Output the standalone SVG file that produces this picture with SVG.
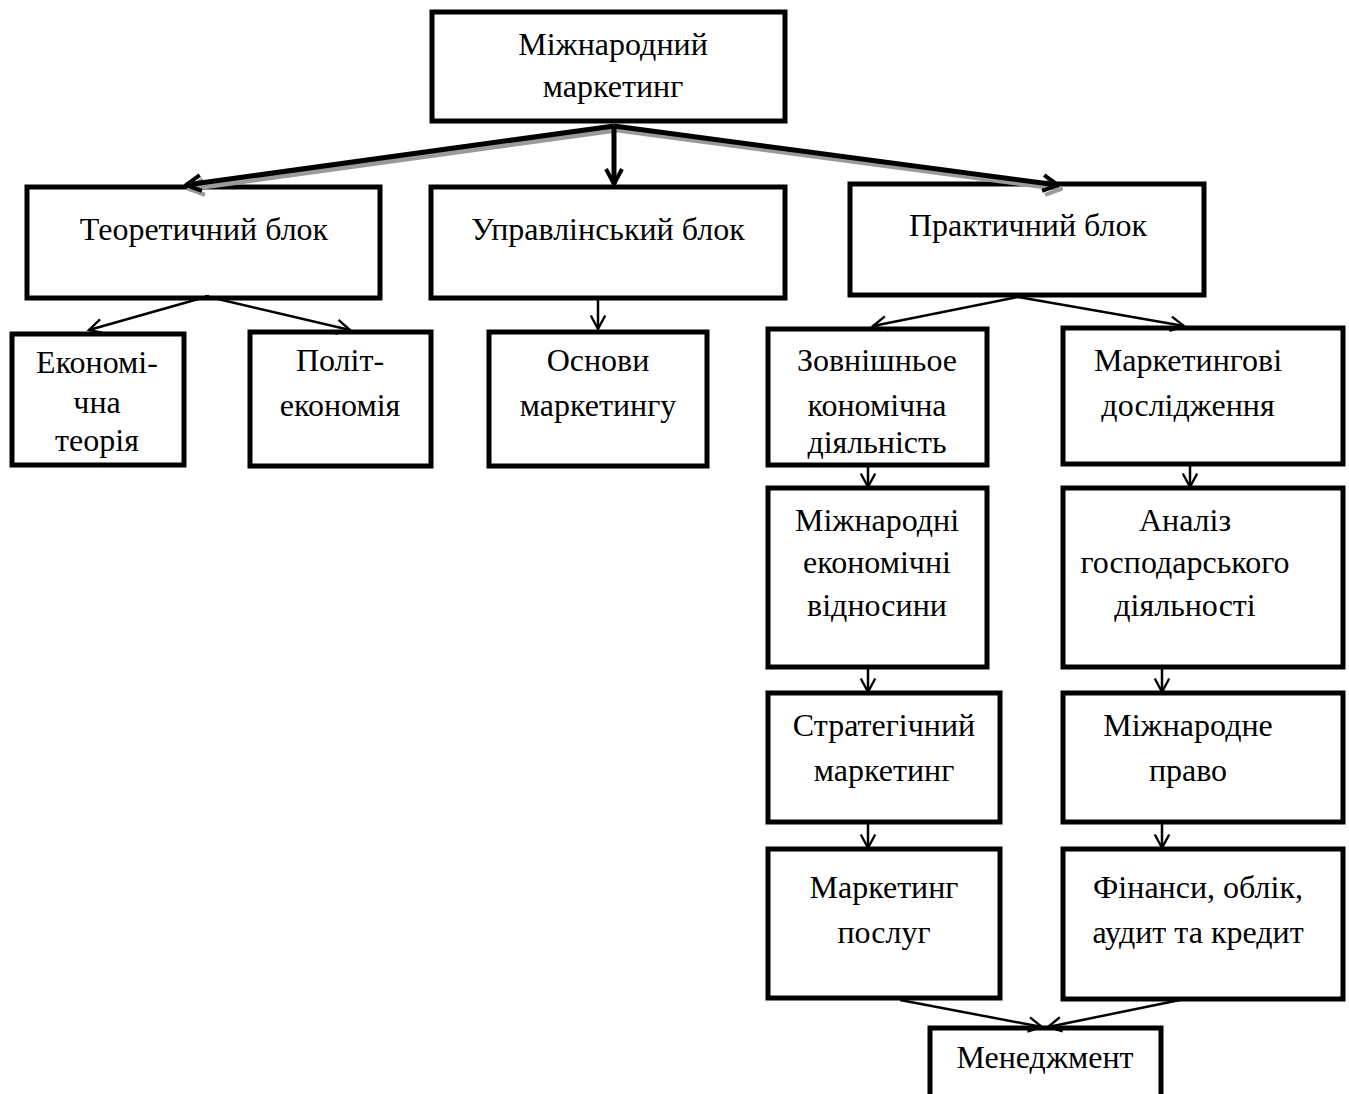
<svg xmlns="http://www.w3.org/2000/svg" width="1349" height="1094" viewBox="0 0 1349 1094">
<style>
.box{fill:#fff;stroke:#000;stroke-width:5}
.t{font-family:"Liberation Serif","Times New Roman",serif;font-size:32px;fill:#000;text-anchor:middle}
.thick{stroke:#000;stroke-width:5;fill:none}
.shadow{stroke:#9a9a9a;stroke-width:5;fill:none}
.thin{stroke:#000;stroke-width:2.5;fill:none}
</style>
<defs>
<marker id="ah" viewBox="0 0 20 20" refX="18" refY="10" markerWidth="20" markerHeight="20" markerUnits="userSpaceOnUse" orient="auto">
<path d="M3,2 L18,10 L3,18" fill="none" stroke="#000" stroke-width="4"/>
</marker>
<marker id="ahs" viewBox="0 0 20 20" refX="18" refY="10" markerWidth="20" markerHeight="20" markerUnits="userSpaceOnUse" orient="auto">
<path d="M3,2 L18,10 L3,18" fill="none" stroke="#9a9a9a" stroke-width="4"/>
</marker>
<marker id="at" viewBox="0 0 20 20" refX="18" refY="10" markerWidth="18" markerHeight="18" markerUnits="userSpaceOnUse" orient="auto">
<path d="M3,2 L18,10 L3,18" fill="none" stroke="#000" stroke-width="2.6"/>
</marker>
</defs>
<g id="n-top"><rect class="box" x="432" y="12" width="353" height="109"/><text class="t" x="613" y="55">Міжнародний</text><text class="t" x="613" y="97">маркетинг</text></g>
<g id="n-teor"><rect class="box" x="27" y="187" width="353" height="111"/><text class="t" x="204" y="240">Теоретичний блок</text></g>
<g id="n-upr"><rect class="box" x="431" y="187" width="354" height="111"/><text class="t" x="608" y="240">Управлінський блок</text></g>
<g id="n-prakt"><rect class="box" x="850" y="184" width="354" height="111"/><text class="t" x="1028" y="236">Практичний блок</text></g>
<g id="n-ekon"><rect class="box" x="12" y="334" width="172" height="131"/><text class="t" x="97" y="373">Економі-</text><text class="t" x="97" y="413">чна</text><text class="t" x="97" y="451">теорія</text></g>
<g id="n-polit"><rect class="box" x="250" y="332" width="181" height="134"/><text class="t" x="340" y="371">Політ-</text><text class="t" x="340" y="416">економія</text></g>
<g id="n-osn"><rect class="box" x="489" y="332" width="218" height="134"/><text class="t" x="598" y="371">Основи</text><text class="t" x="598" y="416">маркетингу</text></g>
<g id="n-zovn"><rect class="box" x="768" y="329" width="219" height="136"/><text class="t" x="877" y="371">Зовнішньое</text><text class="t" x="877" y="416">кономічна</text><text class="t" x="877" y="453">діяльність</text></g>
<g id="n-mdosl"><rect class="box" x="1063" y="328" width="280" height="136"/><text class="t" x="1188" y="371">Маркетингові</text><text class="t" x="1188" y="416">дослідження</text></g>
<g id="n-mev"><rect class="box" x="768" y="488" width="219" height="179"/><text class="t" x="877" y="531">Міжнародні</text><text class="t" x="877" y="573">економічні</text><text class="t" x="877" y="616">відносини</text></g>
<g id="n-anal"><rect class="box" x="1063" y="488" width="280" height="179"/><text class="t" x="1185" y="531">Аналіз</text><text class="t" x="1185" y="573">господарського</text><text class="t" x="1185" y="616">діяльності</text></g>
<g id="n-strat"><rect class="box" x="768" y="693" width="232" height="129"/><text class="t" x="884" y="736">Стратегічний</text><text class="t" x="884" y="781">маркетинг</text></g>
<g id="n-pravo"><rect class="box" x="1063" y="693" width="280" height="129"/><text class="t" x="1188" y="736">Міжнародне</text><text class="t" x="1188" y="781">право</text></g>
<g id="n-posl"><rect class="box" x="768" y="849" width="232" height="149"/><text class="t" x="884" y="898">Маркетинг</text><text class="t" x="884" y="943">послуг</text></g>
<g id="n-fin"><rect class="box" x="1063" y="849" width="280" height="150"/><text class="t" x="1198" y="898">Фінанси, облік,</text><text class="t" x="1198" y="943">аудит та кредит</text></g>
<g id="n-men"><rect class="box" x="930" y="1028" width="231" height="90"/><text class="t" x="1045" y="1068">Менеджмент</text></g>
<g id="connectors">
<line class="shadow" x1="617" y1="130" x2="189" y2="189" marker-end="url(#ahs)"/>
<line class="shadow" x1="617" y1="130" x2="1061" y2="189" marker-end="url(#ahs)"/>
<line class="thick" x1="614" y1="126" x2="186" y2="185" marker-end="url(#ah)"/>
<line class="thick" x1="614" y1="126" x2="614" y2="184" marker-end="url(#ah)"/>
<line class="thick" x1="614" y1="126" x2="1058" y2="185" marker-end="url(#ah)"/>
<line class="thin" x1="209" y1="296" x2="89" y2="330" marker-end="url(#at)"/>
<line class="thin" x1="205" y1="296" x2="350" y2="330" marker-end="url(#at)"/>
<line class="thin" x1="598" y1="300" x2="598" y2="329" marker-end="url(#at)"/>
<line class="thin" x1="1018" y1="297" x2="873" y2="326" marker-end="url(#at)"/>
<line class="thin" x1="1018" y1="297" x2="1184" y2="326" marker-end="url(#at)"/>
<line class="thin" x1="868" y1="467" x2="868" y2="487" marker-end="url(#at)"/>
<line class="thin" x1="1190" y1="466" x2="1190" y2="487" marker-end="url(#at)"/>
<line class="thin" x1="868" y1="669" x2="868" y2="692" marker-end="url(#at)"/>
<line class="thin" x1="1162" y1="669" x2="1162" y2="692" marker-end="url(#at)"/>
<line class="thin" x1="868" y1="824" x2="868" y2="848" marker-end="url(#at)"/>
<line class="thin" x1="1162" y1="824" x2="1162" y2="848" marker-end="url(#at)"/>
<line class="thin" x1="900" y1="1000" x2="1042" y2="1027" marker-end="url(#at)"/>
<line class="thin" x1="1180" y1="1000" x2="1048" y2="1027" marker-end="url(#at)"/>
</g>
</svg>
